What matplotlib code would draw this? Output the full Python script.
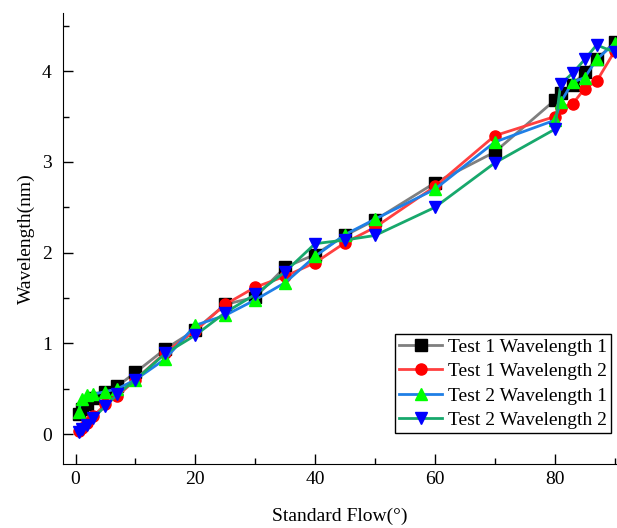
import matplotlib
matplotlib.use("Agg")
import matplotlib.pyplot as plt
from matplotlib.ticker import MultipleLocator

plt.rcParams['font.family'] = ['Liberation Serif', 'DejaVu Serif']

flow = [0.5, 1, 2, 3, 5, 7, 10, 15, 20, 25, 30, 35, 40, 45, 50, 60, 70, 80, 81, 83, 85, 87, 90]

test1_wl1 = [0.22, 0.28, 0.33, 0.40, 0.46, 0.53, 0.68, 0.94, 1.15, 1.43, 1.51, 1.84, 1.98, 2.19,
             2.36, 2.77, 3.11, 3.68, 3.76, 3.85, 3.99, 4.13, 4.32]
test1_wl2 = [0.03, 0.07, 0.12, 0.20, 0.33, 0.42, 0.60, 0.90, 1.14, 1.43, 1.62, 1.74, 1.89, 2.11,
             2.28, 2.73, 3.29, 3.50, 3.60, 3.64, 3.81, 3.89, 4.22]
test2_wl1 = [0.24, 0.39, 0.43, 0.44, 0.47, 0.50, 0.60, 0.83, 1.20, 1.31, 1.48, 1.67, 1.96, 2.20,
             2.37, 2.70, 3.22, 3.46, 3.66, 3.88, 3.93, 4.13, 4.31]
test2_wl2 = [0.02, 0.06, 0.10, 0.18, 0.31, 0.44, 0.60, 0.89, 1.09, 1.34, 1.54, 1.79, 2.10, 2.14,
             2.19, 2.50, 2.99, 3.36, 3.86, 3.98, 4.13, 4.29, 4.21]

labels = ['Test 1 Wavelength 1', 'Test 1 Wavelength 2', 'Test 2 Wavelength 1', 'Test 2 Wavelength 2']
line_colors = ['#7f7f7f', '#ff4040', '#1f7fe6', '#17a86c']
marker_colors = ['#000000', '#ff0000', '#00ff00', '#0000ff']
markers = ['s', 'o', '^', 'v']

fig = plt.figure(figsize=(6.17, 5.28), dpi=100)
ax = fig.add_axes([0.102, 0.121, 0.898, 0.854])

for ys, lab, lc, mc, m in zip([test1_wl1, test1_wl2, test2_wl1, test2_wl2],
                              labels, line_colors, marker_colors, markers):
    ax.plot(flow, ys, color=lc, lw=2, marker=m, markersize=8,
            markerfacecolor=mc, markeredgecolor=mc, label=lab)

ax.set_xlim(-2.1, 90.4)
ax.set_ylim(-0.33, 4.64)
ax.xaxis.set_major_locator(MultipleLocator(20))
ax.xaxis.set_minor_locator(MultipleLocator(10))
ax.yaxis.set_major_locator(MultipleLocator(1))
ax.yaxis.set_minor_locator(MultipleLocator(0.5))
ax.tick_params(which='both', direction='in', labelsize=14, top=False, right=False)
ax.tick_params(which='major', length=7, width=1)
ax.tick_params(which='minor', length=4, width=1)
ax.tick_params(axis='x', pad=5)
ax.tick_params(axis='y', pad=8)
ax.spines['top'].set_visible(False)
ax.spines['right'].set_visible(False)

ax.set_xlabel('Standard Flow(°)', fontsize=14, labelpad=14)
ax.set_ylabel('Wavelength(nm)', fontsize=14, labelpad=5)

leg = ax.legend(loc='lower right', bbox_to_anchor=(0.99, 0.18), bbox_transform=fig.transFigure,
                fontsize=14, fancybox=False, edgecolor='black', framealpha=1,
                handlelength=2.2, borderpad=0.2, labelspacing=0.35, handletextpad=0.3,
                borderaxespad=0)
leg.get_frame().set_linewidth(1)

fig.savefig('out.png', dpi=100)
